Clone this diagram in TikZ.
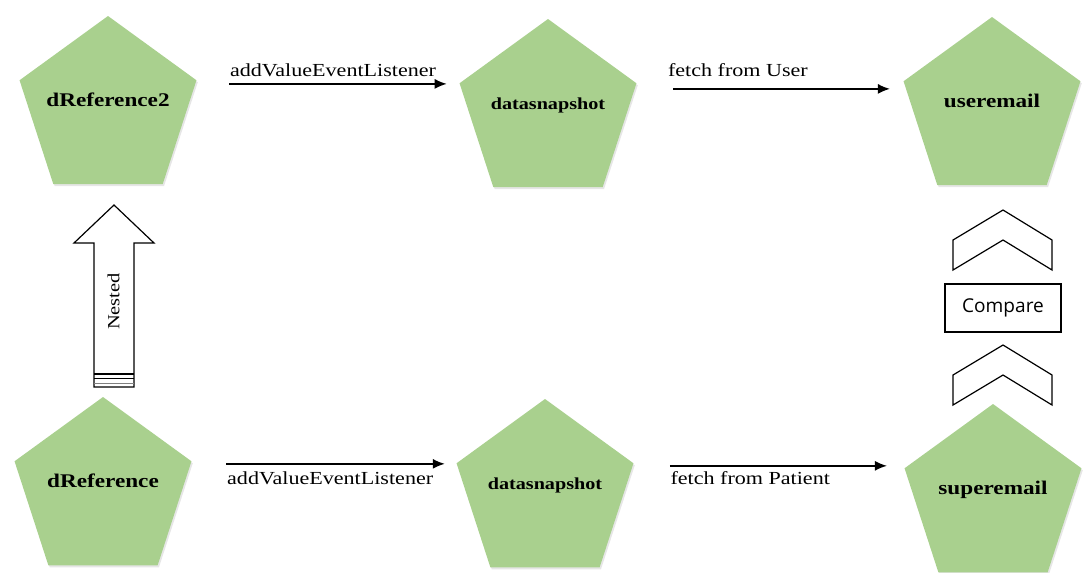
\documentclass[tikz,border=0pt]{standalone}
\usepackage{fontspec}
\setmainfont[FakeStretch=1.2]{Liberation Serif}
\newfontfamily\cmpfont{Open Sans}
\usepackage{tikz}
\usetikzlibrary{arrows.meta,shapes.geometric,shadows,positioning}
\definecolor{leafgreen}{RGB}{169,208,142}
\newcommand{\pname}[1]{\makebox[0pt]{#1}}

\begin{document}
\begin{tikzpicture}[x=0.75pt,y=-0.75pt,>={Latex[length=9pt,width=7.5pt]},
        penta/.style={regular polygon,regular polygon sides=5,minimum size=139.5pt,
            inner sep=0pt,fill=leafgreen,font=\fontsize{14.5pt}{16pt}\selectfont\bfseries,
            text height=5pt,text depth=9.5pt,
            drop shadow={opacity=0.2,shadow xshift=1pt,shadow yshift=-1.5pt}},
        flow/.style={->,line width=1.1pt},
        lbl/.style={inner sep=0pt,font=\fontsize{13.8pt}{16pt}\selectfont},
        chev/.style={draw,line width=0.9pt,fill=white},
        node distance=331.5pt]
    \useasboundingbox (0,0) rectangle (1091,572);

    \node[penta] (refOne) at (103,490) {\pname{dReference}};
    \node[penta] (snapBot) [right of=refOne,yshift=-1.5pt] {\pname{\fontsize{12.6pt}{14pt}\selectfont datasnapshot}};
    \node[penta] (superBot) [right of=snapBot,xshift=4.5pt,yshift=-3.75pt] {\pname{superemail}};
    \node[penta] (refTwo) [node distance=285.75pt,above of=refOne,xshift=3.75pt] {\pname{dReference2}};
    \node[penta] (snapTop) [right of=refTwo,xshift=-1.5pt,yshift=-2.25pt] {\pname{\fontsize{12.6pt}{14pt}\selectfont datasnapshot}};
    \node[penta] (mailTop) [right of=snapTop,xshift=1.5pt,yshift=1.5pt] {\pname{useremail}};

    % listeners and fetches
    \coordinate (a1) at ([xshift=24.4pt,yshift=-2.8pt]refTwo.corner 5);
    \coordinate (a2) at ([xshift=27.4pt,yshift=-4.3pt]snapTop.corner 5);
    \coordinate (a3) at ([xshift=26pt,yshift=-2pt]refOne.corner 5);
    \coordinate (a4) at ([xshift=27pt,yshift=-2pt]snapBot.corner 5);
    \draw[flow,shorten >=9.4pt] (a1) -- (a1 -| snapTop.corner 2)
        node[lbl,at start,anchor=base west,yshift=5.25pt] {addValueEventListener};
    \draw[flow,shorten >=10pt] (a2) -- (a2 -| mailTop.corner 2)
        node[lbl,at start,anchor=base west,xshift=-4.5pt,yshift=9pt] {fetch from User};
    \draw[flow,shorten >=8.6pt] (a3) -- (a3 -| snapBot.corner 2)
        node[lbl,at start,anchor=base west,yshift=-15.75pt] {addValueEventListener};
    \draw[flow,shorten >=13pt] (a4) -- (a4 -| superBot.corner 2)
        node[lbl,at start,anchor=base west,yshift=-14.25pt] {fetch from Patient};

    % nested block arrow
    \draw[line width=0.9pt,fill=white] (114,205) -- (154,243) -- (134,243) -- (134,387)
        -- (94,387) -- (94,243) -- (74,243) -- cycle;
    \draw[line width=0.8pt] (94,374) -- (134,374);
    \draw[line width=1.2pt] (94,378.5) -- (134,378.5);
    \draw[line width=0.7pt,gray] (94,383) -- (134,383);
    \node[rotate=90,inner sep=0pt,font=\fontsize{12.8pt}{14pt}\selectfont] (nestText) at (113.5,301.5) {Nested};

    % compare
    \foreach \y in {210,345}
        \draw[chev] (1003,\y) -- (1052,\y+30) -- (1052,\y+60) -- (1003,\y+30)
            -- (953,\y+60) -- (953,\y+30) -- cycle;
    \node[draw,line width=0.9pt,minimum width=87pt,minimum height=36pt,
        font=\cmpfont\fontsize{14.3pt}{16pt}\selectfont] (cmp) at (1003,308) {Compare};

\end{tikzpicture}
\end{document}
